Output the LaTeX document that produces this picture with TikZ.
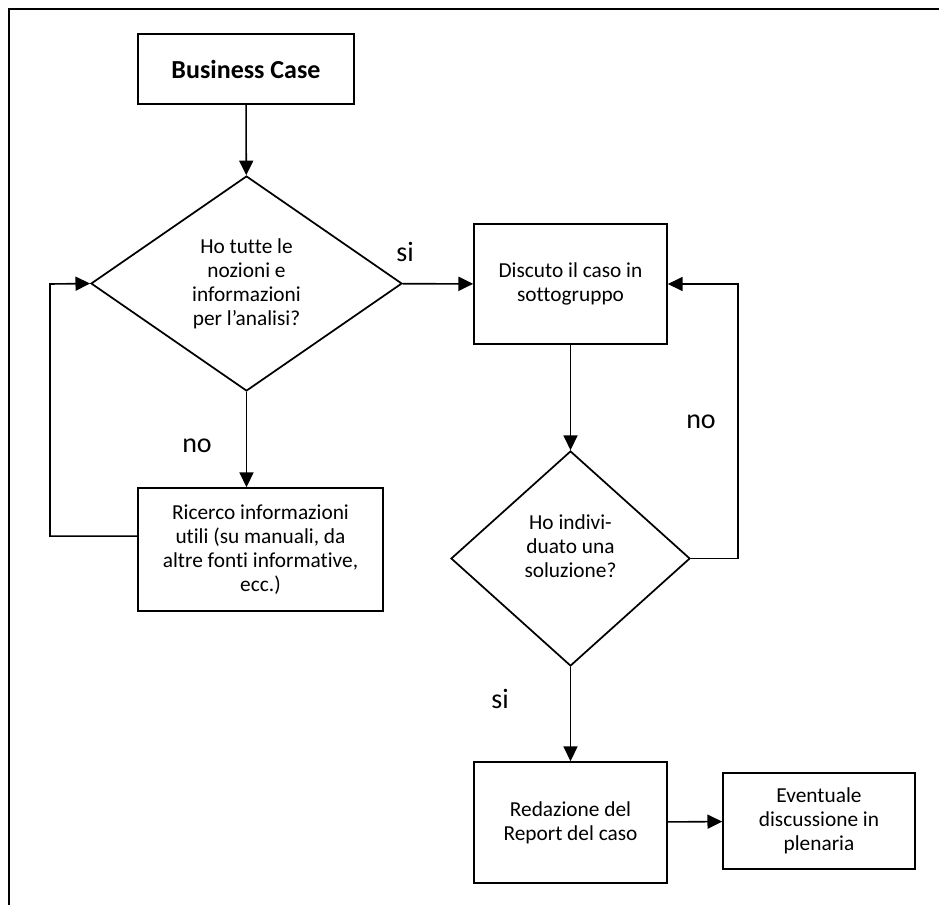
\documentclass[tikz,border=0pt]{standalone}
\usepackage{fontspec}
\setmainfont{Carlito}[Ligatures=NoCommon]
\usetikzlibrary{shapes.geometric,arrows.meta}
\tikzset{
  box/.style={draw, line width=1.3pt, align=center, inner sep=0pt,
    font=\fontsize{16}{18}\selectfont},
  choice/.style={draw, diamond, line width=1.3pt, align=center, inner sep=0pt,
    font=\fontsize{16}{18}\selectfont},
  answer/.style={font=\fontsize{21}{25}\selectfont}
}
\begin{document}
\begin{tikzpicture}[x=0.75pt,y=-0.75pt]
      \useasboundingbox (0,0) rectangle (939,904);
      \clip (0,0) rectangle (939,904);
      \draw[line width=1.5pt] (9,9) rectangle (960,930);
      \draw
        (246,69) node[box, minimum width=162pt, minimum height=52.5pt,
          font=\fontsize{19.5}{23}\selectfont\bfseries] (case){Business Case}
        (246.5,283.5) node[choice, minimum width=233.25pt, minimum height=161.25pt] (q1){Ho tutte le\\nozioni e\\informazioni\\per l’analisi?}
        (260.5,549.5) node[box, minimum width=183.75pt, minimum height=92.25pt] (ric){Ricerco informazioni\\utili (su manuali, da\\altre fonti informative,\\ecc.)}
        (570.5,284) node[box, minimum width=144.75pt, minimum height=90pt] (disc){Discuto il caso in\\sottogruppo}
        (570.5,558.5) node[choice, minimum width=179.25pt, minimum height=161.25pt] (q2){Ho indivi-\\duato una\\soluzione?\\\mbox{}}
        (570.5,822.5) node[box, minimum width=144.75pt, minimum height=90.75pt] (rep){Redazione del\\Report del caso}
        (819,821) node[box, minimum width=144pt, minimum height=72pt] (plen){Eventuale\\discussione in\\plenaria}
        (405,252) node[answer] (si1){si}
        (197,446) node[answer] (no1){no}
        (701,422) node[answer] (no2){no}
        (500,699) node[answer] (si2){si};
      \coordinate (lc) at (50,284);
      \coordinate (rc) at (738,558.5);
      \begin{scope}[-{Triangle[length=11pt,width=10.5pt]}, line width=1.2pt]
        \draw (case) to (q1);
        \draw (q1) to (disc);
        \draw (q1.south) to (q1.south |- ric.north);
        \draw (disc) to (q2);
        \draw (q2) to (rep);
        \draw (rep) to (plen);
        \draw ([yshift=10pt]ric.west) -| (lc) -- (q1.west);
        \draw (q2.east) -- (rc) |- (disc.east);
      \end{scope}
    \end{tikzpicture}
\end{document}
